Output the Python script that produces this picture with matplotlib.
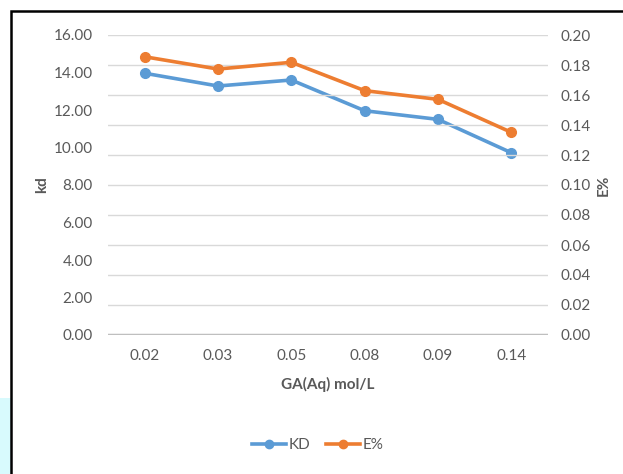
import matplotlib.pyplot as plt
from matplotlib.patches import Rectangle

# data
conc_labels = ["0.02", "0.03", "0.05", "0.08", "0.09", "0.14"]
kd_values = [13.96, 13.28, 13.60, 11.96, 11.50, 9.72]
e_values = [0.1855, 0.1773, 0.1818, 0.1629, 0.1571, 0.1351]
left_ticks = [0, 2, 4, 6, 8, 10, 12, 14, 16]
right_ticks = [0.00, 0.02, 0.04, 0.06, 0.08, 0.10, 0.12, 0.14, 0.16, 0.18, 0.20]

plt.rcParams['font.family'] = ['Lato', 'DejaVu Sans']
txt = '#595959'
blue = '#5B9BD5'
orange = '#ED7D31'
fs = 11

fig = plt.figure(figsize=(6.23, 4.74), dpi=100)

# frame of the original screenshot
fig.patches.append(Rectangle((0, 0), 0.018, 0.16, transform=fig.transFigure,
                             facecolor='#D8FAFD', edgecolor='none', zorder=-10))
fig.patches.append(Rectangle((11 / 623, -0.05), 1.0, 1 - 11 / 474 + 0.05,
                             transform=fig.transFigure, facecolor='white',
                             edgecolor='black', linewidth=1.8, zorder=-10))

ax = fig.add_axes([108 / 623, 1 - 335 / 474, 440 / 623, 300 / 474])
ax.patch.set_visible(False)
ax2 = ax.twinx()
ax2.patch.set_visible(False)

x = list(range(len(conc_labels)))
ax.set_xlim(-0.5, len(conc_labels) - 0.5)
ax.set_ylim(0, 16)
ax2.set_ylim(0, 0.20)

# gridlines follow the right axis
for v in right_ticks[1:]:
    ax2.axhline(v, color='#D9D9D9', linewidth=1.0, zorder=0)
ax2.axhline(0, color='#BFBFBF', linewidth=2.5, zorder=1)

ax.plot(x, kd_values, color=blue, linewidth=2.6, marker='o', markersize=7, zorder=3)
ax2.plot(x, e_values, color=orange, linewidth=2.6, marker='o', markersize=7, zorder=3)

ax.set_yticks(left_ticks)
ax.set_yticklabels([f"{v:.2f}" for v in left_ticks])
ax2.set_yticks(right_ticks)
ax2.set_yticklabels([f"{v:.2f}" for v in right_ticks])
ax.set_xticks(x)
ax.set_xticklabels(conc_labels)

for a in (ax, ax2):
    for s in a.spines.values():
        s.set_visible(False)
    a.tick_params(length=0, labelsize=fs, colors=txt)
ax.tick_params(axis='y', pad=11)
ax2.tick_params(axis='y', pad=9)
ax.tick_params(axis='x', pad=10)

ax.set_ylabel("kd", fontsize=fs, fontweight='bold', color=txt, labelpad=3)
ax2.set_ylabel("E%", fontsize=fs, fontweight='bold', color=txt, labelpad=4)
ax.set_xlabel("GA(Aq) mol/L", fontsize=fs, fontweight='bold', color=txt, labelpad=10)

handles = [plt.Line2D([], [], color=blue, linewidth=2.6, marker='o', markersize=6),
           plt.Line2D([], [], color=orange, linewidth=2.6, marker='o', markersize=6)]
fig.legend(handles, ["KD", "E%"], loc='center', bbox_to_anchor=(318 / 623, 1 - 445 / 474),
           ncol=2, frameon=False, fontsize=fs, labelcolor=txt,
           handlelength=2.2, handletextpad=0.2, columnspacing=1.0)

fig.savefig("out.png", dpi=100)
